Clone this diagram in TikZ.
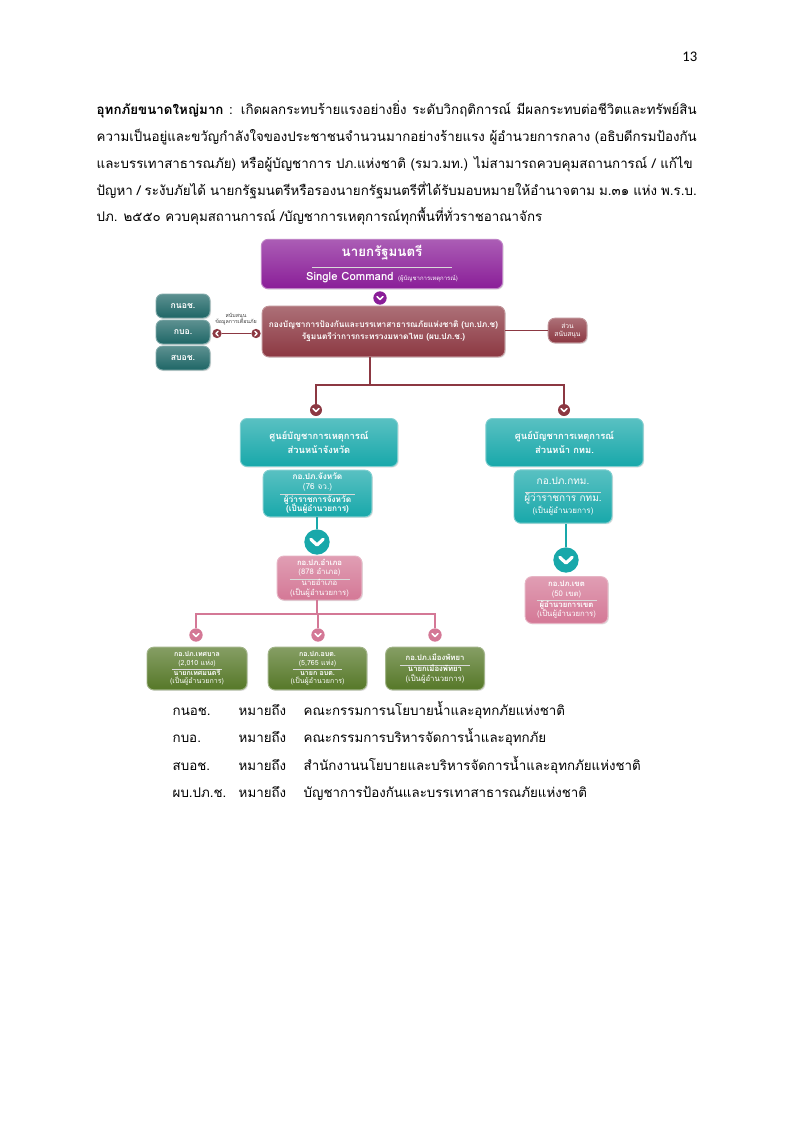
\documentclass[tikz,border=0pt]{standalone}
\usepackage{fontspec}
\setmainfont[Script=Thai]{Loma}
\newfontfamily\pagenum{Carlito}
\usetikzlibrary{calc,shadows}
\definecolor{purpleCmd}{RGB}{138,30,152}
\definecolor{maroonHQ}{RGB}{140,56,66}
\definecolor{tealDark}{RGB}{30,102,102}
\definecolor{tealFwd}{RGB}{24,168,170}
\definecolor{pinkDist}{RGB}{212,120,150}
\definecolor{greenLoc}{RGB}{86,120,40}
\tikzstyle{unit} = [rounded corners=5pt,text=white,align=center,inner sep=1pt,line width=0.7pt,drop shadow={opacity=0.25,shadow xshift=0.8pt,shadow yshift=-0.8pt}]
\tikzstyle{tone} = [top color=#1!72!white,bottom color=#1,draw=#1!55!white]
\tikzstyle{chev} = [circle,inner sep=0pt,minimum size=9pt,path picture={\draw[white,line width=1.2pt,line cap=round,line join=round] ([xshift=-2.2pt,yshift=1pt]path picture bounding box.center) -- ++(2.2pt,-2.1pt) -- ++(2.2pt,2.1pt);}]
\tikzstyle{bigchev} = [circle,inner sep=0pt,minimum size=19pt,path picture={\draw[white,line width=2.4pt,line cap=round,line join=round] ([xshift=-4.6pt,yshift=2pt]path picture bounding box.center) -- ++(4.6pt,-4.3pt) -- ++(4.6pt,4.3pt);}]
\tikzstyle{chevleft} = [circle,inner sep=0pt,minimum size=7pt,path picture={\draw[white,line width=1pt,line cap=round,line join=round] ([xshift=0.8pt,yshift=1.7pt]path picture bounding box.center) -- ++(-1.6pt,-1.7pt) -- ++(1.6pt,-1.7pt);}]
\tikzstyle{chevright} = [circle,inner sep=0pt,minimum size=7pt,path picture={\draw[white,line width=1pt,line cap=round,line join=round] ([xshift=-0.8pt,yshift=1.7pt]path picture bounding box.center) -- ++(1.6pt,-1.7pt) -- ++(-1.6pt,-1.7pt);}]
\newcommand{\divider}[1]{\\[-3.5pt]{\color{white!85!black}\rule{#1}{0.4pt}}\\[-2pt]}

\begin{document}
\begin{tikzpicture}[x=0.75pt,y=-0.75pt]
\fill[white] (0,0) rectangle (794,1122);
\useasboundingbox (0,0) rectangle (794,1122);
\node[anchor=base east,font=\pagenum\fontsize{11}{13}\selectfont] (pg) at (702,61) {13};
\node[anchor=base west,font=\fontsize{10}{12}\selectfont] (p1) at (92,114) {\makebox[450pt][s]{\textbf{อุทกภัยขนาดใหญ่มาก} : เกิดผลกระทบร้ายแรงอย่างยิ่ง ระดับวิกฤติการณ์ มีผลกระทบต่อชีวิตและทรัพย์สิน}};
\node[anchor=base west,font=\fontsize{10}{12}\selectfont] (p2) at (92,141.5) {\makebox[450pt][s]{ความเป็นอยู่และขวัญกำลังใจของประชาชนจำนวนมากอย่างร้ายแรง ผู้อำนวยการกลาง (อธิบดีกรมป้องกัน}};
\node[anchor=base west,font=\fontsize{10}{12}\selectfont] (p3) at (92,168) {\makebox[447pt][s]{และบรรเทาสาธารณภัย) หรือผู้บัญชาการ ปภ.แห่งชาติ (รมว.มท.) ไม่สามารถควบคุมสถานการณ์ / แก้ไข}};
\node[anchor=base west,font=\fontsize{10}{12}\selectfont] (p4) at (92,195) {\makebox[450pt][s]{ปัญหา / ระงับภัยได้ นายกรัฐมนตรีหรือรองนายกรัฐมนตรีที่ได้รับมอบหมายให้อำนาจตาม ม.๓๑ แห่ง พ.ร.บ.}};
\node[anchor=base west,font=\fontsize{10}{12}\selectfont] (p5) at (92,221.5) {ปภ. ๒๕๕๐ ควบคุมสถานการณ์ /บัญชาการเหตุการณ์ทุกพื้นที่ทั่วราชอาณาจักร};

\node[unit,tone=purpleCmd,minimum width=181pt,minimum height=37pt] (pm) at (382,264) {{\fontsize{10}{11}\selectfont\bfseries นายกรัฐมนตรี}\divider{105pt}{\fontsize{8.5}{9}\selectfont\bfseries Single Command} {\fontsize{4.5}{5}\selectfont (ผู้บัญชาการเหตุการณ์)}};
\node[chev,fill=purpleCmd,minimum size=10pt] (cpm) at (380,298) {};
\node[unit,tone=maroonHQ,minimum width=182pt,minimum height=38pt,font=\fontsize{6.2}{9}\selectfont\bfseries] (hq) at (383.5,331.5) {กองบัญชาการป้องกันและบรรเทาสาธารณภัยแห่งชาติ (บก.ปภ.ช)\\รัฐมนตรีว่าการกระทรวงมหาดไทย (ผบ.ปภ.ช.)};
\node[unit,tone=tealDark,minimum width=40.5pt,minimum height=18pt,font=\fontsize{6.5}{7}\selectfont\bfseries] (knoch) at (183,306) {กนอช.};
\node[unit,tone=tealDark,minimum width=40.5pt,minimum height=18pt,font=\fontsize{6.5}{7}\selectfont\bfseries] (kbo) at (183,332) {กบอ.};
\node[unit,tone=tealDark,minimum width=40.5pt,minimum height=18pt,font=\fontsize{6.5}{7}\selectfont\bfseries] (sboch) at (183,358) {สบอช.};
\node[chevleft,fill=maroonHQ] (sl) at (217,333.5) {};
\node[chevright,fill=maroonHQ] (sr) at (256,333.5) {};
\draw[maroonHQ,line width=1.3pt] (sl) -- (sr);
\node[align=center,text=black!75,font=\fontsize{4}{4.6}\selectfont] (slbl) at (236,319) {สนับสนุน\\ข้อมูลการเตือนภัย};
\node[unit,tone=maroonHQ,minimum width=29pt,minimum height=18.5pt,font=\fontsize{5}{6}\selectfont] (sup) at (567.5,330.5) {ส่วน\\สนับสนุน};
\draw[maroonHQ,line width=1.3pt] (hq.east |- sup.west) -- (sup.west);

\coordinate (hqJ) at (370,385);
\node[chev,fill=maroonHQ] (cL) at (316,410) {};
\node[chev,fill=maroonHQ] (cR) at (564,410) {};
\draw[maroonHQ,line width=1.5pt] (hqJ |- hq.south) -- (hqJ) (cL.north) |- (hqJ) -| (cR.north);

\node[unit,tone=tealFwd,minimum width=118pt,minimum height=36pt,font=\fontsize{7}{10}\selectfont\bfseries] (fwdP) at (319,442.5) {ศูนย์บัญชาการเหตุการณ์\\ส่วนหน้าจังหวัด};
\node[unit,tone=tealFwd,minimum width=118pt,minimum height=36pt,font=\fontsize{7}{10}\selectfont\bfseries] (fwdB) at (564.5,442.5) {ศูนย์บัญชาการเหตุการณ์\\ส่วนหน้า กทม.};
\node[unit,tone=tealFwd,minimum width=81.5pt,minimum height=35pt,font=\fontsize{6.2}{7.4}\selectfont] (provC) at (317.5,493.5) {\textbf{กอ.ปภ.จังหวัด}\\(76 จว.)\divider{56pt}\textbf{ผู้ว่าราชการจังหวัด}\\\textbf{(เป็นผู้อำนวยการ)}};
\node[unit,tone=tealFwd,minimum width=73.5pt,minimum height=40pt,font=\fontsize{7.5}{9}\selectfont] (bkkC) at (563,496.5) {กอ.ปภ.กทม.\divider{57pt}ผู้ว่าราชการ กทม.\\{\fontsize{6}{7}\selectfont (เป็นผู้อำนวยการ)}};
\node[bigchev,fill=tealFwd] (cP) at (317,542) {};
\node[bigchev,fill=tealFwd] (cB) at (566,560) {};
\draw[tealFwd,line width=2.2pt] (provC.south -| cP) -- (cP) (bkkC.south -| cB) -- (cB);

\node[unit,tone=pinkDist,minimum width=63.5pt,minimum height=33pt,font=\fontsize{5.8}{7}\selectfont] (amp) at (319.5,578) {\textbf{กอ.ปภ.อำเภอ}\\(878 อำเภอ)\divider{45pt}นายอำเภอ\\(เป็นผู้อำนวยการ)};
\node[unit,tone=pinkDist,minimum width=62pt,minimum height=35pt,font=\fontsize{5.8}{7}\selectfont] (khet) at (566.5,600) {\textbf{กอ.ปภ.เขต}\\(50 เขต)\divider{45pt}\textbf{ผู้อำนวยการเขต}\\(เป็นผู้อำนวยการ)};

\coordinate (ampJ) at (317,614);
\node[chev,fill=pinkDist,minimum size=10pt] (cT1) at (196,635) {};
\node[chev,fill=pinkDist,minimum size=10pt] (cT2) at (318,635) {};
\node[chev,fill=pinkDist,minimum size=10pt] (cT3) at (435,635) {};
\draw[pinkDist,line width=2.2pt] (ampJ |- amp.south) -- (ampJ) (cT1.north) |- (ampJ) -| (cT3.north) (cT2.north) -- (cT2.north |- ampJ);

\node[unit,tone=greenLoc,minimum width=75pt,minimum height=32pt,font=\fontsize{5.3}{6.5}\selectfont] (tes) at (197,668.5) {\textbf{กอ.ปภ.เทศบาล}\\(2,010 แห่ง)\divider{37pt}\textbf{นายกเทศมนตรี}\\(เป็นผู้อำนวยการ)};
\node[unit,tone=greenLoc,minimum width=74pt,minimum height=32pt,font=\fontsize{5.3}{6.5}\selectfont] (obt) at (317.5,668.5) {\textbf{กอ.ปภ.อบต.}\\(5,765 แห่ง)\divider{37pt}\textbf{นายก อบต.}\\(เป็นผู้อำนวยการ)};
\node[unit,tone=greenLoc,minimum width=74pt,minimum height=32pt,font=\fontsize{5.8}{7}\selectfont] (pty) at (435,668.5) {\textbf{กอ.ปภ.เมืองพัทยา}\divider{52pt}\textbf{นายกเมืองพัทยา}\\(เป็นผู้อำนวยการ)};

\node[anchor=base west,font=\fontsize{10}{12}\selectfont] (lg1) at (168,715) {\makebox[49.5pt][l]{กนอช.}\makebox[48.75pt][l]{หมายถึง}คณะกรรมการนโยบายน้ำและอุทกภัยแห่งชาติ};
\node[anchor=base west,font=\fontsize{10}{12}\selectfont] (lg2) at (168,742.5) {\makebox[49.5pt][l]{กบอ.}\makebox[48.75pt][l]{หมายถึง}คณะกรรมการบริหารจัดการน้ำและอุทกภัย};
\node[anchor=base west,font=\fontsize{10}{12}\selectfont] (lg3) at (168,770) {\makebox[49.5pt][l]{สบอช.}\makebox[48.75pt][l]{หมายถึง}สำนักงานนโยบายและบริหารจัดการน้ำและอุทกภัยแห่งชาติ};
\node[anchor=base west,font=\fontsize{10}{12}\selectfont] (lg4) at (168,797.5) {\makebox[49.5pt][l]{ผบ.ปภ.ช.}\makebox[48.75pt][l]{หมายถึง}บัญชาการป้องกันและบรรเทาสาธารณภัยแห่งชาติ};
\end{tikzpicture}
\end{document}
